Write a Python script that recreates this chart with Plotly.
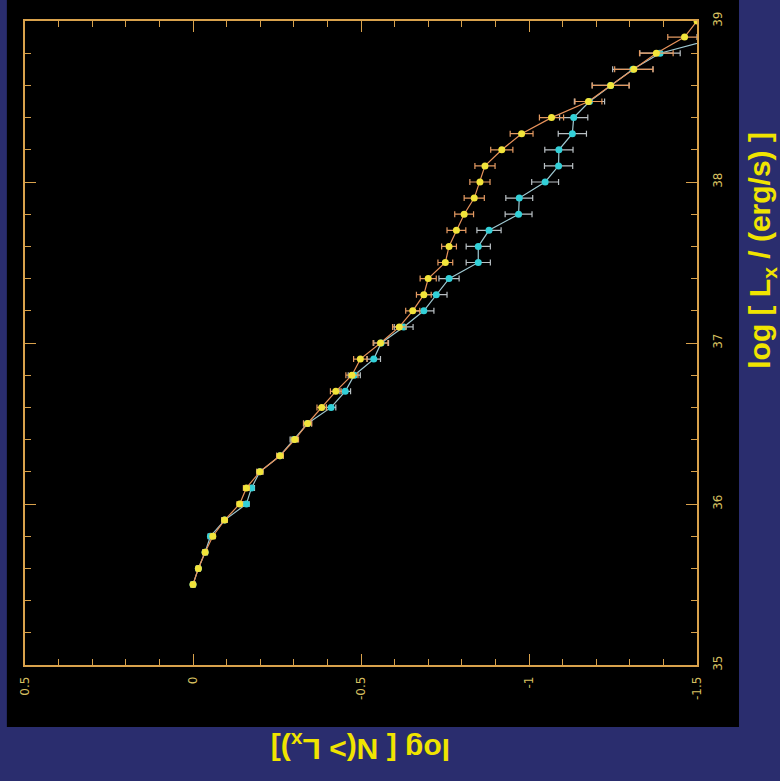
import plotly.graph_objects as go

# log Lx values (vertical axis on screen)
log_lx = [35.5, 35.6, 35.7, 35.8, 35.9, 36.0, 36.1, 36.2, 36.3, 36.4, 36.5, 36.6,
          36.7, 36.8, 36.9, 37.0, 37.1, 37.2, 37.3, 37.4, 37.5, 37.6, 37.7, 37.8,
          37.9, 38.0, 38.1, 38.2, 38.3, 38.4, 38.5, 38.6, 38.7, 38.8, 38.9, 39.0]

# yellow series: log N(>Lx)
yellow_logn = [0.0, -0.016, -0.036, -0.059, -0.094, -0.139, -0.159, -0.199, -0.259, -0.303,
               -0.341, -0.383, -0.425, -0.473, -0.498, -0.558, -0.614, -0.654, -0.687, -0.700,
               -0.751, -0.762, -0.784, -0.807, -0.837, -0.854, -0.869, -0.919, -0.978, -1.067,
               -1.177, -1.243, -1.312, -1.379, -1.463, -1.5]
yellow_err = [0.006, 0.006, 0.007, 0.007, 0.008, 0.008, 0.009, 0.009, 0.010, 0.011,
              0.012, 0.014, 0.016, 0.018, 0.020, 0.022, 0.020, 0.021, 0.022, 0.024,
              0.022, 0.022, 0.028, 0.028, 0.030, 0.030, 0.030, 0.033, 0.034, 0.036,
              0.040, 0.055, 0.057, 0.050, 0.050, 0.0]

# cyan series: log N(>Lx)
cyan_logn = [0.0, -0.016, -0.036, -0.052, -0.094, -0.159, -0.174, -0.199, -0.259, -0.300,
             -0.341, -0.411, -0.453, -0.480, -0.538, -0.560, -0.627, -0.687, -0.724, -0.762,
             -0.849, -0.849, -0.881, -0.969, -0.971, -1.048, -1.088, -1.089, -1.129, -1.133,
             -1.180, -1.243, -1.309, -1.390, -1.570]
cyan_lx = log_lx[:35]
cyan_err = [0.006, 0.006, 0.007, 0.007, 0.008, 0.008, 0.009, 0.009, 0.010, 0.011,
            0.012, 0.014, 0.016, 0.018, 0.020, 0.022, 0.028, 0.030, 0.032, 0.030,
            0.036, 0.036, 0.036, 0.040, 0.040, 0.040, 0.042, 0.042, 0.042, 0.042,
            0.045, 0.055, 0.060, 0.060, 0.070]

x_ticks = [0.5, 0, -0.5, -1, -1.5]
x_ticktext = ["0.5", "0", "-0.5", "-1", "-1.5"]
y_ticks = [35, 36, 37, 38, 39]

axis_col = "#d9a24c"
bg_col = "#2a2d6e"
tick_font = dict(family="DejaVu Sans", size=12, color="#d8c060")
title_font = dict(family="Liberation Sans", size=30, color="#f0e400", weight="bold")

fig = go.Figure()
fig.add_trace(go.Scatter(
    x=cyan_logn, y=cyan_lx, mode="lines+markers",
    line=dict(color="#9fc9d2", width=1.2),
    marker=dict(color="#33d0d8", size=7),
    error_x=dict(type="data", array=cyan_err, color="#b9c0c4", thickness=1.2, width=3),
    showlegend=False,
))
fig.add_trace(go.Scatter(
    x=yellow_logn, y=log_lx, mode="lines+markers",
    line=dict(color="#e8935c", width=1.2),
    marker=dict(color="#f2e43a", size=7),
    error_x=dict(type="data", array=yellow_err, color="#e49a62", thickness=1.2, width=3),
    showlegend=False,
))

fig.update_layout(
    width=780, height=781,
    margin=dict(l=25, r=83, t=21, b=116),
    paper_bgcolor=bg_col,
    plot_bgcolor="#000000",
    shapes=[dict(type="rect", xref="paper", yref="paper",
                 x0=-0.027, x1=1.0625, y0=-0.0963, y1=1.04,
                 fillcolor="#000000", line=dict(width=0), layer="below")],
    xaxis=dict(range=[0.5, -1.5], tickvals=x_ticks, ticktext=x_ticktext,
               tickangle=-90, tickfont=tick_font, ticklabelstandoff=5,
               ticks="inside", ticklen=11, tickcolor=axis_col, tickwidth=1.2,
               minor=dict(dtick=0.1, tick0=0, ticks="inside", ticklen=6,
                          tickcolor=axis_col, tickwidth=1.2),
               showline=True, linecolor=axis_col, linewidth=1.5, mirror="allticks",
               showgrid=False, zeroline=False),
    yaxis=dict(range=[35, 39], tickvals=y_ticks, side="right",
               tickangle=-90, tickfont=tick_font, ticklabelstandoff=9,
               ticks="inside", ticklen=11, tickcolor=axis_col, tickwidth=1.2,
               minor=dict(dtick=0.2, tick0=35, ticks="inside", ticklen=6,
                          tickcolor=axis_col, tickwidth=1.2),
               showline=True, linecolor=axis_col, linewidth=1.5, mirror="allticks",
               showgrid=False, zeroline=False),
    annotations=[
        dict(text="log [ L<sub>x</sub> / (erg/s) ]", xref="paper", yref="paper",
             x=1.096, y=0.644, xanchor="center", yanchor="middle",
             showarrow=False, textangle=-90, font=title_font),
        dict(text="log [ N(> L<sub>x</sub>)]", xref="paper", yref="paper",
             x=0.4985, y=-0.129, xanchor="center", yanchor="middle",
             showarrow=False, textangle=180, font=title_font),
    ],
)

fig.write_html(
    "out.html",
    config={"displayModeBar": False},
    post_script="document.body.style.margin='0';document.body.style.background='%s';" % bg_col,
)
